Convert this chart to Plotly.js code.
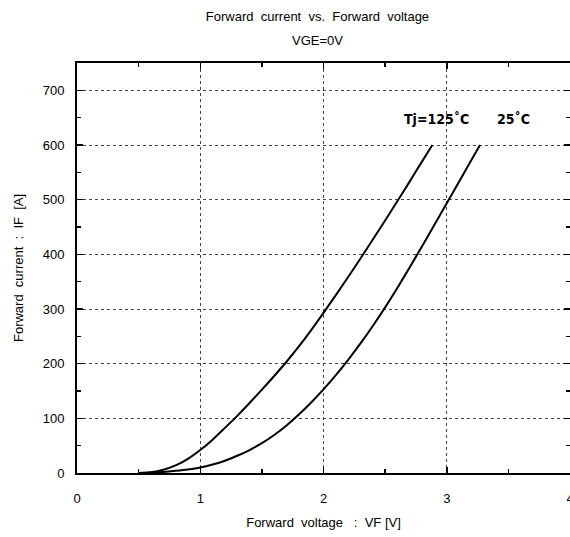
<!DOCTYPE html>
<html>
<head>
<meta charset="utf-8">
<script src="https://cdn.plot.ly/plotly-3.0.1.min.js"></script>
<style>html,body{margin:0;padding:0;background:#fff;}#chart{width:570px;height:537px;}</style>
</head>
<body>
<div id="chart"></div>
<script>
// Forward voltage [V] and forward current [A], Tj = 125 °C
const vf125 = [0.5, 0.6, 0.7, 0.8, 0.9, 1.0, 1.1, 1.2, 1.3, 1.4, 1.5, 1.6, 1.7, 1.8, 1.9, 2.0, 2.1, 2.2, 2.3, 2.4, 2.5, 2.6, 2.7, 2.8, 2.883];
const if125 = [0, 1.5, 6, 14, 26, 42, 61, 82.5, 104.5, 128, 152.5, 177.5, 203.5, 231.5, 261.5, 293, 325.5, 358.5, 392.5, 427, 462, 497.5, 533.5, 570, 600];
// Tj = 25 °C
const vf25 = [0.5, 0.6, 0.7, 0.8, 0.9, 1.0, 1.1, 1.2, 1.3, 1.4, 1.5, 1.6, 1.7, 1.8, 1.9, 2.0, 2.1, 2.2, 2.3, 2.4, 2.5, 2.6, 2.7, 2.8, 2.9, 3.0, 3.1, 3.2, 3.27];
const if25 = [0, 0.7, 2, 4, 6.5, 10, 15.5, 22.5, 31.5, 42, 54.5, 69.5, 87, 107, 129, 153, 179, 207, 237, 269, 303, 339, 376.5, 415, 454, 493.5, 533, 572.5, 600];

const titleText = 'Forward\u00a0 current\u00a0 vs.\u00a0 Forward\u00a0 voltage';
const subTitle = 'VGE=0V';
const xTitle = 'Forward\u00a0 voltage\u00a0\u00a0 :\u00a0 VF [V]';
const yTitle = 'Forward\u00a0 current\u00a0 :\u00a0 IF\u00a0 [A]';
const label125 = 'Tj=125\u02daC';
const label25 = '25\u02daC';

const font = {family: 'Liberation Sans, Arial, sans-serif', size: 13, color: '#000'};
const labelFont = {family: 'DejaVu Sans Condensed, Liberation Sans Narrow, sans-serif', size: 14, color: '#000', weight: 'bold'};

const traces = [
  {x: vf125, y: if125, mode: 'lines', line: {color: '#000', width: 2, shape: 'spline', smoothing: 0.8}, hoverinfo: 'skip'},
  {x: vf25, y: if25, mode: 'lines', line: {color: '#000', width: 2, shape: 'spline', smoothing: 0.8}, hoverinfo: 'skip'}
];

const axisCommon = {
  showline: true, linecolor: '#000', linewidth: 2, mirror: 'ticks',
  ticks: 'inside', ticklen: 6, tickwidth: 1.5, tickcolor: '#000',
  showgrid: true, gridcolor: '#444', griddash: 'dot', gridwidth: 1,
  zeroline: false, tickfont: font, ticklabeloverflow: 'allow'
};

const layout = {
  width: 570, height: 537,
  margin: {l: 77, r: 0, t: 63, b: 64},
  paper_bgcolor: '#fff', plot_bgcolor: '#fff',
  showlegend: false,
  font: font,
  title: {text: titleText, font: {family: font.family, size: 13, color: '#000'}, x: 0.557, xanchor: 'center', y: 0.97, yanchor: 'middle'},
  xaxis: Object.assign({}, axisCommon, {
    range: [0, 4], dtick: 1, tick0: 0, ticklabelstandoff: 12,
    minor: {dtick: 0.5, ticks: 'inside', ticklen: 4, tickwidth: 1.5, tickcolor: '#000', showgrid: false},
    title: {text: xTitle, font: font, standoff: 13}
  }),
  yaxis: Object.assign({}, axisCommon, {
    range: [0, 750], dtick: 100, tick0: 0, ticklabelstandoff: 8,
    minor: {dtick: 50, ticks: 'inside', ticklen: 4, tickwidth: 1.5, tickcolor: '#000', showgrid: false},
    title: {text: yTitle, font: font, standoff: 16}
  }),
  annotations: [
    {text: subTitle, xref: 'paper', yref: 'paper', x: 0.487, y: 1.0 + (63 - 41) / 410, xanchor: 'center', yanchor: 'middle', showarrow: false, font: font},
    {text: label125, xref: 'x', yref: 'y', x: 2.92, y: 647, xanchor: 'center', yanchor: 'middle', showarrow: false, font: labelFont},
    {text: label25, xref: 'x', yref: 'y', x: 3.54, y: 647, xanchor: 'center', yanchor: 'middle', showarrow: false, font: labelFont}
  ]
};

Plotly.newPlot('chart', traces, layout, {staticPlot: true, displayModeBar: false});
</script>
</body>
</html>
